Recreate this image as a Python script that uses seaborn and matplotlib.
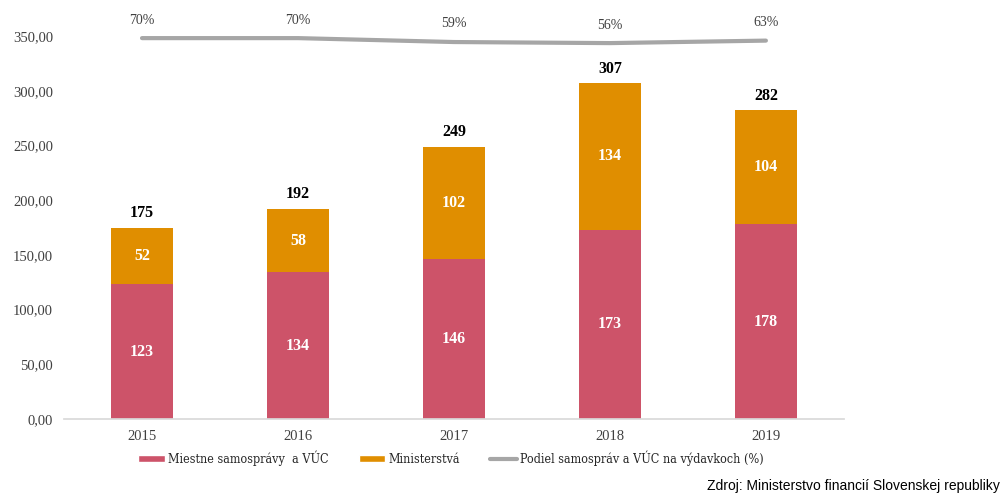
import matplotlib
matplotlib.use("Agg")
import matplotlib.pyplot as plt
import seaborn as sns
import pandas as pd
from matplotlib.lines import Line2D
from matplotlib.patches import Patch
from matplotlib.font_manager import FontProperties

years = ["2015", "2016", "2017", "2018", "2019"]
local_gov = [123, 134, 146, 173, 178]
ministries = [52, 58, 102, 134, 104]
totals = [175, 192, 249, 307, 282]
share_pct = [70, 70, 59, 56, 63]

RED = "#CD5369"
ORANGE = "#E08E00"
GRAY = "#A6A6A6"

sns.set_theme(style="white")
plt.rcParams["font.family"] = ["Liberation Serif", "DejaVu Serif"]

df = pd.DataFrame({"year": years, "local": local_gov, "min": ministries, "total": totals})

fig = plt.figure(figsize=(10.05, 4.98), dpi=100)
ax = fig.add_axes([0.0637, 0.1586, 0.776, 0.769])

sns.barplot(data=df, x="year", y="total", color=ORANGE, width=0.4, saturation=1, linewidth=0, ax=ax)
sns.barplot(data=df, x="year", y="local", color=RED, width=0.4, saturation=1, linewidth=0, ax=ax)

ax.set_ylim(0, 350)
ax.set_xlim(-0.5, 4.5)
ax.set_yticks(range(0, 351, 50))
ax.set_yticklabels([f"{v},00" for v in range(0, 351, 50)], fontsize=10.5, color="#404040")
ax.set_xticklabels(years, fontsize=10.5, color="#404040")
ax.set_xlabel("")
ax.set_ylabel("")
for s in ["top", "right", "left"]:
    ax.spines[s].set_visible(False)
ax.spines["bottom"].set_color("#D9D9D9")
ax.tick_params(axis="both", length=0, pad=8)

for i in range(len(years)):
    ax.text(i, local_gov[i] / 2, str(local_gov[i]), ha="center", va="center",
            color="white", fontsize=11.5, fontweight="bold")
    ax.text(i, local_gov[i] + ministries[i] / 2, str(ministries[i]), ha="center", va="center",
            color="white", fontsize=11.5, fontweight="bold")
    ax.text(i, totals[i] + 6, str(totals[i]), ha="center", va="bottom",
            color="black", fontsize=11.5, fontweight="bold")

ax2 = ax.twinx()
ax2.set_ylim(-1000, 75.8)
sns.lineplot(x=list(range(len(years))), y=share_pct, color=GRAY, linewidth=3, ax=ax2)
ax2.set_yticks([])
for s in ax2.spines.values():
    s.set_visible(False)
ax2.set_ylabel("")
for i, p in enumerate(share_pct):
    ax2.annotate(f"{p}%", (i, p), xytext=(0, 13), textcoords="offset points",
                 ha="center", va="center", fontsize=10, color="#404040",
                 annotation_clip=False)

legend_font = FontProperties(family="DejaVu Serif", stretch="condensed", size=9)
handles = [Patch(facecolor=RED, label="Miestne samosprávy  a VÚC"),
           Patch(facecolor=ORANGE, label="Ministerstvá"),
           Line2D([0], [0], color=GRAY, linewidth=3, label="Podiel samospráv a VÚC na výdavkoch (%)")]
fig.legend(handles=handles, loc="center", bbox_to_anchor=(0.449, 0.08), ncol=3, frameon=False,
           prop=legend_font, handlelength=2.1, handleheight=0.45, columnspacing=2.4,
           handletextpad=0.3, labelcolor="#262626")

fig.text(0.995, 0.01, "Zdroj: Ministerstvo financií Slovenskej republiky", ha="right", va="bottom",
         fontsize=10, family=["Liberation Sans", "DejaVu Sans"], color="black")

fig.savefig("out.png", dpi=100)
